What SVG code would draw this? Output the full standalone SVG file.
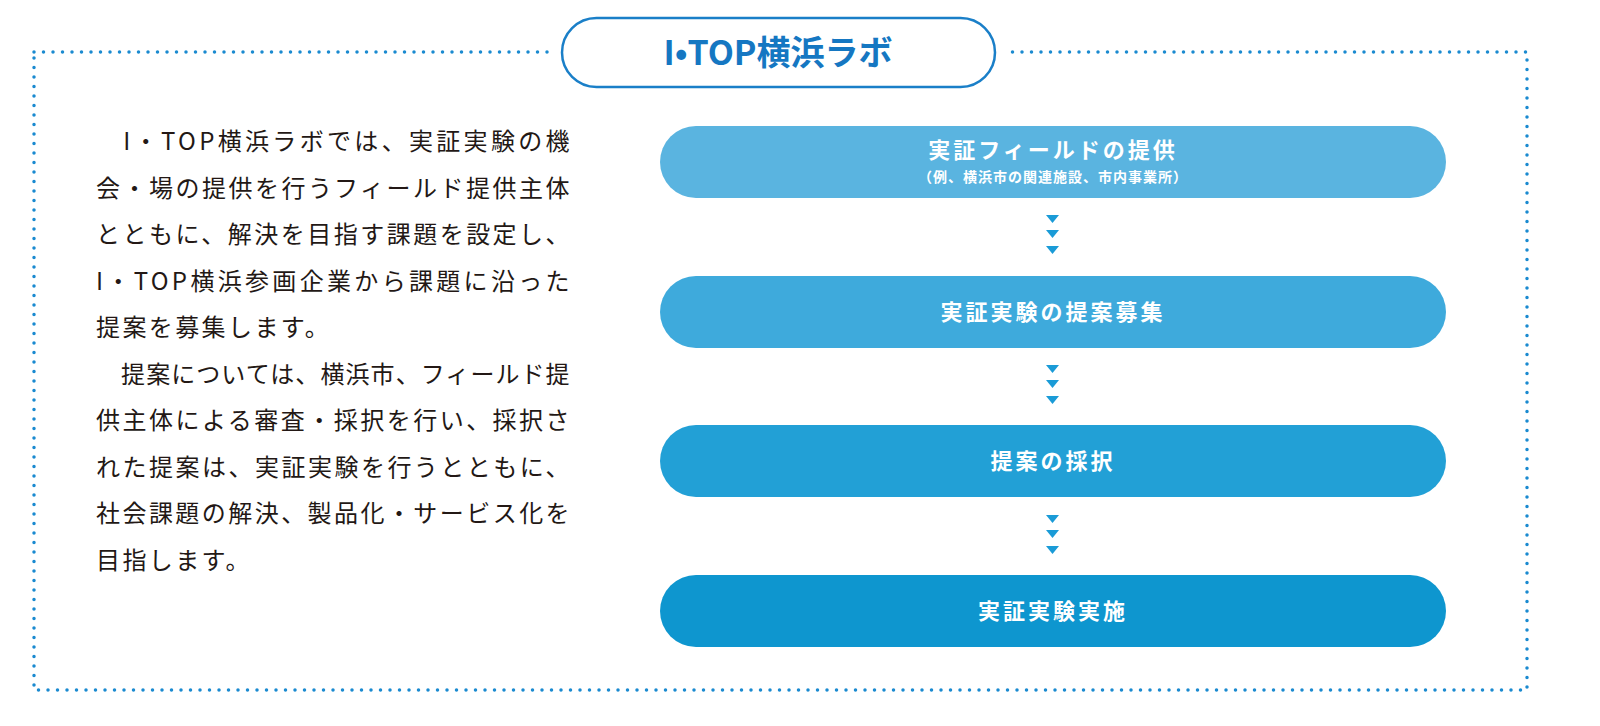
<svg xmlns="http://www.w3.org/2000/svg" width="1600" height="726" viewBox="0 0 1600 726">
<style>
.t{font-family:"Noto Sans CJK JP","Noto Sans",sans-serif;font-size:24px;fill:#231815;letter-spacing:2.4px}
.b{font-family:"Noto Sans CJK JP","Noto Sans",sans-serif;font-weight:bold;fill:#fff;text-anchor:middle;letter-spacing:3px}
.a{fill:#1a9bd7}
</style>
<rect width="1600" height="726" fill="#fff"/>
<rect x="34" y="52" width="1493" height="638" fill="none" stroke="#1a8ad0" stroke-width="3.5" stroke-linecap="round" stroke-dasharray="0 9.5"/>
<g id="title">
<rect x="550" y="12" width="455" height="82" fill="#fff"/>
<rect x="562" y="18" width="433" height="69" rx="34.5" fill="#fff" stroke="#1a7fc8" stroke-width="2.5"/>
<text x="778" y="65" text-anchor="middle" font-family="Noto Sans CJK JP,sans-serif" font-weight="bold" font-size="34" fill="#1577c2">I•TOP横浜ラボ</text>
</g>
<g id="body">
<text class="t" x="96" y="150" textLength="476" lengthAdjust="spacing">　I・TOP横浜ラボでは、実証実験の機</text>
<text class="t" x="96" y="197" textLength="476" lengthAdjust="spacing">会・場の提供を行うフィールド提供主体</text>
<text class="t" x="96" y="243" textLength="476" lengthAdjust="spacing">とともに、解決を目指す課題を設定し、</text>
<text class="t" x="96" y="290" textLength="476" lengthAdjust="spacing">I・TOP横浜参画企業から課題に沿った</text>
<text class="t" x="96" y="336">提案を募集します。</text>
<text class="t" x="96" y="383" textLength="476" lengthAdjust="spacing">　提案については、横浜市、フィールド提</text>
<text class="t" x="96" y="429" textLength="476" lengthAdjust="spacing">供主体による審査・採択を行い、採択さ</text>
<text class="t" x="96" y="476" textLength="476" lengthAdjust="spacing">れた提案は、実証実験を行うとともに、</text>
<text class="t" x="96" y="522" textLength="476" lengthAdjust="spacing">社会課題の解決、製品化・サービス化を</text>
<text class="t" x="96" y="569">目指します。</text>
</g>
<g id="n1"><rect x="660" y="126" width="786" height="72" rx="36" fill="#5ab4e0"/>
<text class="b" x="1053" y="158" font-size="22">実証フィールドの提供</text>
<text class="b" x="1053" y="182" font-size="14" style="letter-spacing:1px">（例、横浜市の関連施設、市内事業所）</text></g>
<g id="n2"><rect x="660" y="276" width="786" height="72" rx="36" fill="#3eaadc"/>
<text class="b" x="1053" y="320" font-size="22">実証実験の提案募集</text></g>
<g id="n3"><rect x="660" y="425" width="786" height="72" rx="36" fill="#22a0d6"/>
<text class="b" x="1053" y="469" font-size="22">提案の採択</text></g>
<g id="n4"><rect x="660" y="575" width="786" height="72" rx="36" fill="#0e96cf"/>
<text class="b" x="1053" y="619" font-size="22">実証実験実施</text></g>
<g id="connectors">
<path class="a" d="M1046 215h13l-6.5 8zM1046 230h13l-6.5 8zM1046 246h13l-6.5 8z"/>
<path class="a" d="M1046 365h13l-6.5 8zM1046 380h13l-6.5 8zM1046 396h13l-6.5 8z"/>
<path class="a" d="M1046 515h13l-6.5 8zM1046 530h13l-6.5 8zM1046 546h13l-6.5 8z"/>
</g>
</svg>
